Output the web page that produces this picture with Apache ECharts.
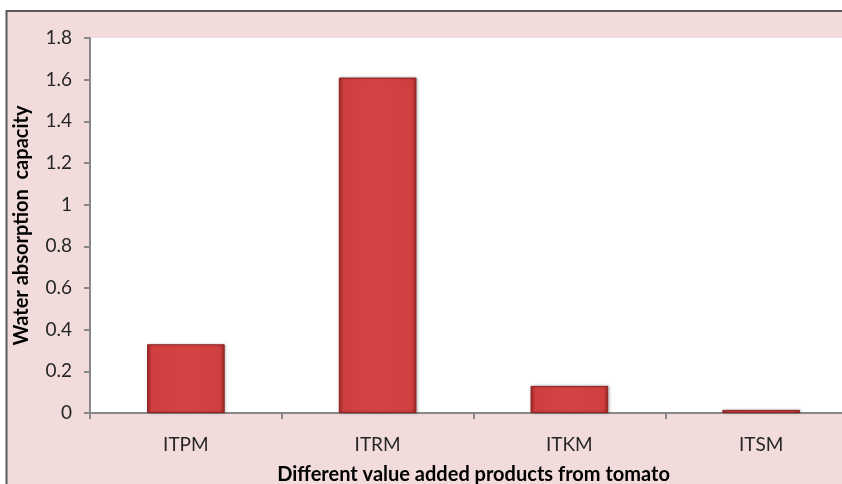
<!DOCTYPE html>
<html>
<head>
<meta charset="utf-8">
<script src="https://cdn.jsdelivr.net/npm/echarts@6/dist/echarts.min.js"></script>
<style>
html, body { margin: 0; padding: 0; background: #ffffff; }
#chart { width: 842px; height: 484px; }
</style>
</head>
<body>
<div id="chart"></div>
<script>
var categories = ['ITPM', 'ITRM', 'ITKM', 'ITSM'];
var values = [0.33, 1.61, 0.13, 0.015];
var yTicks = [0, 0.2, 0.4, 0.6, 0.8, 1, 1.2, 1.4, 1.6, 1.8];

var chart = echarts.init(document.getElementById('chart'), null, {renderer: 'canvas'});

var barColor = new echarts.graphic.LinearGradient(0, 0, 1, 0, [
    {offset: 0, color: '#a82a2a'},
    {offset: 0.06, color: '#cf3f3f'},
    {offset: 0.5, color: '#d44444'},
    {offset: 0.94, color: '#cf3f3f'},
    {offset: 1, color: '#9c2626'}
]);

var option = {
    animation: false,
    backgroundColor: '#ffffff',
    textStyle: {fontFamily: 'Lato'},
    graphic: [{
        type: 'rect',
        z: -10,
        shape: {x: 6.5, y: 11, width: 900, height: 500},
        style: {fill: '#f2dcdb', stroke: '#595959', lineWidth: 2}
    }],
    grid: {
        left: 90, top: 38, right: -15, bottom: 71,
        outerBoundsMode: 'none',
        containLabel: false,
        show: true, backgroundColor: '#ffffff', borderWidth: 0
    },
    xAxis: {
        type: 'category',
        data: categories,
        name: 'Different value added products from tomato',
        nameLocation: 'middle',
        nameGap: 52,
        nameTextStyle: {fontSize: 20, fontWeight: 'bold', color: '#000000', fontFamily: 'Lato'},
        axisLine: {lineStyle: {color: '#888888', width: 2}},
        axisTick: {show: true, length: 6, lineStyle: {color: '#888888', width: 2}},
        axisLabel: {fontSize: 19, color: '#262626', margin: 22, fontFamily: 'Lato'}
    },
    yAxis: {
        type: 'value',
        min: yTicks[0],
        max: yTicks[yTicks.length - 1],
        interval: 0.2,
        name: 'Water absorption  capacity',
        nameLocation: 'middle',
        nameGap: 58,
        nameTextStyle: {fontSize: 20, fontWeight: 'bold', color: '#000000', fontFamily: 'Lato'},
        axisLine: {show: true, lineStyle: {color: '#888888', width: 2}},
        axisTick: {show: true, length: 6, lineStyle: {color: '#888888', width: 2}},
        splitLine: {show: false},
        axisLabel: {fontSize: 19, color: '#262626', margin: 18, fontFamily: 'Lato'}
    },
    series: [{
        type: 'bar',
        data: values,
        barWidth: '40.5%',
        itemStyle: {
            color: barColor,
            borderColor: '#8e2222',
            borderWidth: 1,
            shadowColor: 'rgba(0,0,0,0.25)',
            shadowBlur: 3,
            shadowOffsetX: 1
        }
    }]
};

chart.setOption(option);
</script>
</body>
</html>
